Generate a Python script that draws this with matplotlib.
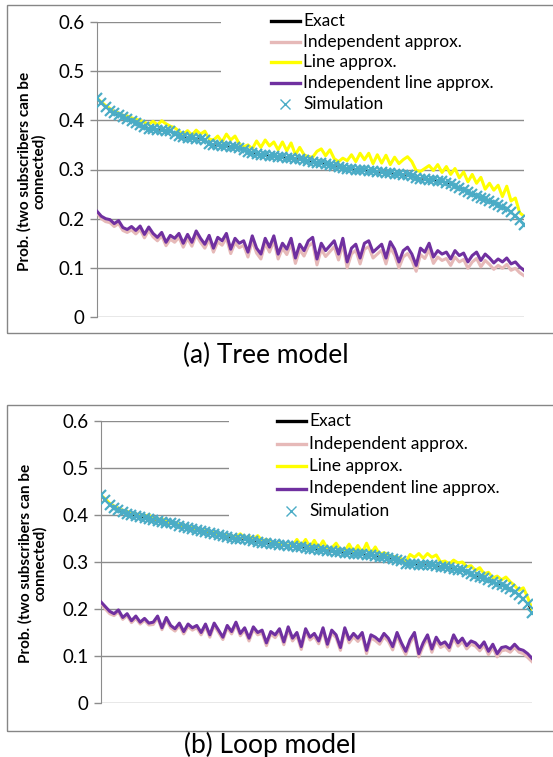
import matplotlib
matplotlib.use("Agg")
import matplotlib.pyplot as plt
from matplotlib.patches import Rectangle
import numpy as np

plt.rcParams['font.family'] = ['Lato', 'DejaVu Sans']

# ---------------- data: (a) Tree model ----------------
tree_exact = [
    0.445, 0.436, 0.428, 0.420, 0.414, 0.410, 0.407, 0.403, 0.399, 0.395,
    0.391, 0.387, 0.383, 0.382, 0.381, 0.380, 0.379, 0.378, 0.372, 0.368,
    0.366, 0.365, 0.364, 0.363, 0.362, 0.360, 0.352, 0.350, 0.349, 0.348,
    0.347, 0.346, 0.345, 0.343, 0.340, 0.336, 0.334, 0.332, 0.330, 0.329,
    0.328, 0.327, 0.326, 0.325, 0.324, 0.323, 0.322, 0.321, 0.319, 0.317,
    0.315, 0.314, 0.313, 0.312, 0.310, 0.308, 0.306, 0.304, 0.302, 0.301,
    0.300, 0.299, 0.298, 0.297, 0.296, 0.295, 0.294, 0.293, 0.292, 0.291,
    0.290, 0.289, 0.288, 0.287, 0.282, 0.281, 0.280, 0.279, 0.278, 0.277,
    0.276, 0.273, 0.270, 0.267, 0.263, 0.259, 0.255, 0.251, 0.247, 0.243,
    0.240, 0.236, 0.232, 0.228, 0.224, 0.220, 0.214, 0.206, 0.198, 0.188]
tree_sim = tree_exact
tree_line = [
    0.445, 0.437, 0.430, 0.424, 0.418, 0.415, 0.410, 0.409, 0.405, 0.402,
    0.400, 0.396, 0.392, 0.398, 0.391, 0.399, 0.393, 0.388, 0.385, 0.378,
    0.372, 0.379, 0.370, 0.380, 0.372, 0.378, 0.362, 0.360, 0.368, 0.356,
    0.372, 0.360, 0.368, 0.352, 0.346, 0.350, 0.342, 0.358, 0.345, 0.360,
    0.348, 0.356, 0.340, 0.356, 0.338, 0.354, 0.330, 0.345, 0.330, 0.326,
    0.325, 0.337, 0.342, 0.328, 0.340, 0.322, 0.316, 0.323, 0.318, 0.330,
    0.316, 0.333, 0.320, 0.333, 0.312, 0.330, 0.313, 0.329, 0.310, 0.325,
    0.312, 0.320, 0.326, 0.316, 0.298, 0.296, 0.302, 0.308, 0.298, 0.310,
    0.294, 0.306, 0.290, 0.302, 0.283, 0.295, 0.275, 0.290, 0.272, 0.284,
    0.260, 0.272, 0.258, 0.268, 0.245, 0.266, 0.236, 0.242, 0.212, 0.205]
tree_indline = [
    0.215, 0.205, 0.200, 0.198, 0.190, 0.196, 0.182, 0.178, 0.184, 0.176,
    0.185, 0.168, 0.183, 0.170, 0.162, 0.172, 0.152, 0.166, 0.160, 0.170,
    0.150, 0.168, 0.152, 0.175, 0.160, 0.148, 0.166, 0.140, 0.162, 0.155,
    0.170, 0.138, 0.160, 0.150, 0.155, 0.132, 0.165, 0.140, 0.128, 0.160,
    0.142, 0.165, 0.128, 0.150, 0.138, 0.160, 0.120, 0.148, 0.135, 0.155,
    0.162, 0.118, 0.150, 0.135, 0.145, 0.155, 0.128, 0.160, 0.112, 0.140,
    0.148, 0.120, 0.150, 0.155, 0.132, 0.140, 0.148, 0.120, 0.153, 0.138,
    0.112, 0.135, 0.142, 0.128, 0.105, 0.140, 0.132, 0.150, 0.122, 0.135,
    0.128, 0.132, 0.118, 0.135, 0.125, 0.130, 0.112, 0.125, 0.132, 0.115,
    0.128, 0.120, 0.110, 0.118, 0.112, 0.120, 0.108, 0.112, 0.102, 0.095]
tree_ind = [
    0.212, 0.200, 0.194, 0.192, 0.184, 0.190, 0.176, 0.172, 0.177, 0.169,
    0.178, 0.161, 0.176, 0.163, 0.155, 0.165, 0.145, 0.158, 0.152, 0.162,
    0.142, 0.160, 0.144, 0.167, 0.152, 0.140, 0.158, 0.132, 0.153, 0.146,
    0.161, 0.129, 0.151, 0.141, 0.146, 0.122, 0.155, 0.130, 0.118, 0.150,
    0.132, 0.155, 0.118, 0.140, 0.127, 0.149, 0.109, 0.137, 0.124, 0.144,
    0.151, 0.106, 0.138, 0.123, 0.133, 0.143, 0.116, 0.148, 0.100, 0.128,
    0.136, 0.108, 0.138, 0.143, 0.120, 0.128, 0.136, 0.108, 0.141, 0.126,
    0.100, 0.122, 0.129, 0.115, 0.093, 0.127, 0.119, 0.137, 0.109, 0.122,
    0.115, 0.119, 0.105, 0.122, 0.112, 0.117, 0.099, 0.112, 0.119, 0.102,
    0.115, 0.107, 0.097, 0.105, 0.099, 0.107, 0.095, 0.099, 0.090, 0.084]

# ---------------- data: (b) Loop model ----------------
loop_exact = [
    0.442, 0.432, 0.422, 0.414, 0.410, 0.406, 0.403, 0.400, 0.398, 0.396,
    0.394, 0.392, 0.390, 0.388, 0.386, 0.384, 0.382, 0.380, 0.377, 0.374,
    0.372, 0.370, 0.368, 0.366, 0.364, 0.362, 0.360, 0.358, 0.355, 0.353,
    0.351, 0.350, 0.349, 0.348, 0.346, 0.345, 0.343, 0.341, 0.340, 0.339,
    0.338, 0.337, 0.336, 0.335, 0.333, 0.332, 0.331, 0.330, 0.328, 0.327,
    0.326, 0.325, 0.324, 0.323, 0.322, 0.321, 0.320, 0.319, 0.318, 0.317,
    0.316, 0.315, 0.314, 0.313, 0.311, 0.310, 0.308, 0.306, 0.304, 0.302,
    0.296, 0.295, 0.295, 0.294, 0.294, 0.294, 0.293, 0.292, 0.290, 0.289,
    0.288, 0.286, 0.284, 0.282, 0.278, 0.274, 0.271, 0.268, 0.265, 0.261,
    0.257, 0.254, 0.251, 0.247, 0.243, 0.237, 0.230, 0.222, 0.210, 0.192]
loop_sim = loop_exact
loop_line = [
    0.442, 0.434, 0.425, 0.419, 0.414, 0.410, 0.408, 0.404, 0.402, 0.400,
    0.398, 0.400, 0.393, 0.390, 0.392, 0.386, 0.384, 0.383, 0.379, 0.377,
    0.375, 0.373, 0.370, 0.368, 0.366, 0.365, 0.362, 0.360, 0.358, 0.356,
    0.356, 0.352, 0.360, 0.350, 0.355, 0.348, 0.356, 0.345, 0.348, 0.342,
    0.340, 0.339, 0.338, 0.336, 0.335, 0.348, 0.335, 0.348, 0.332, 0.346,
    0.330, 0.345, 0.328, 0.330, 0.340, 0.326, 0.324, 0.338, 0.322, 0.335,
    0.320, 0.340, 0.318, 0.332, 0.316, 0.320, 0.315, 0.312, 0.310, 0.307,
    0.300, 0.316, 0.310, 0.318, 0.308, 0.318, 0.310, 0.315, 0.300, 0.302,
    0.296, 0.304, 0.298, 0.300, 0.290, 0.292, 0.282, 0.288, 0.275, 0.278,
    0.266, 0.270, 0.262, 0.268, 0.258, 0.250, 0.240, 0.245, 0.225, 0.200]
loop_indline = [
    0.215, 0.205, 0.195, 0.190, 0.198, 0.182, 0.190, 0.175, 0.185, 0.172,
    0.180, 0.170, 0.172, 0.185, 0.160, 0.182, 0.165, 0.158, 0.170, 0.152,
    0.168, 0.160, 0.165, 0.150, 0.168, 0.145, 0.170, 0.155, 0.140, 0.165,
    0.152, 0.172, 0.148, 0.160, 0.138, 0.162, 0.150, 0.155, 0.128, 0.152,
    0.145, 0.158, 0.130, 0.162, 0.138, 0.150, 0.120, 0.158, 0.140, 0.148,
    0.132, 0.160, 0.125, 0.155, 0.145, 0.118, 0.160, 0.135, 0.148, 0.138,
    0.150, 0.112, 0.145, 0.140, 0.132, 0.148, 0.138, 0.120, 0.150, 0.128,
    0.110, 0.135, 0.150, 0.105, 0.128, 0.145, 0.115, 0.140, 0.125, 0.130,
    0.118, 0.145, 0.128, 0.138, 0.122, 0.132, 0.128, 0.118, 0.130, 0.110,
    0.125, 0.105, 0.118, 0.120, 0.115, 0.125, 0.115, 0.112, 0.105, 0.095]
loop_ind = [
    0.212, 0.200, 0.190, 0.186, 0.194, 0.178, 0.186, 0.171, 0.180, 0.168,
    0.176, 0.166, 0.167, 0.181, 0.156, 0.177, 0.160, 0.153, 0.165, 0.147,
    0.163, 0.155, 0.160, 0.145, 0.163, 0.140, 0.165, 0.150, 0.135, 0.160,
    0.147, 0.167, 0.143, 0.155, 0.132, 0.157, 0.145, 0.149, 0.122, 0.147,
    0.139, 0.152, 0.124, 0.156, 0.132, 0.144, 0.114, 0.152, 0.134, 0.142,
    0.126, 0.154, 0.119, 0.149, 0.139, 0.112, 0.154, 0.128, 0.141, 0.131,
    0.143, 0.105, 0.138, 0.133, 0.125, 0.141, 0.131, 0.113, 0.143, 0.121,
    0.103, 0.128, 0.143, 0.098, 0.121, 0.138, 0.108, 0.133, 0.118, 0.123,
    0.111, 0.138, 0.121, 0.131, 0.115, 0.125, 0.121, 0.111, 0.123, 0.103,
    0.118, 0.098, 0.111, 0.113, 0.108, 0.118, 0.108, 0.105, 0.097, 0.088]

y_ticks = [0, 0.1, 0.2, 0.3, 0.4, 0.5, 0.6]
y_ticklabels = ["0", "0.1", "0.2", "0.3", "0.4", "0.5", "0.6"]
labels = ["Exact", "Independent approx.", "Line approx.",
          "Independent line approx.", "Simulation"]
titles = ["(a) Tree model", "(b) Loop model"]
ylabel = "Prob. (two subscribers can be\nconnected)"

C_EXACT = "black"
C_IND = "#E6B9B8"
C_LINE = "#FFFF00"
C_INDLINE = "#7030A0"
C_SIM = "#4BACC6"
GRID = "#8C8C8C"

W, H = 553, 757
fig = plt.figure(figsize=(W / 100, H / 100), dpi=100)


def fx(px):
    return px / W


def fy(py):
    return 1 - py / H


panels = [
    dict(ax=(97, 22, 524, 317), box=(7, 5, 333),
         leg=(271, 21, 20.7, 221, 7, 116),
         title_y=355, title_x=266, ylab=(32, 171),
         data=(tree_exact, tree_ind, tree_line, tree_indline, tree_sim)),
    dict(ax=(101, 421, 532, 703), box=(7, 405, 731),
         leg=(277, 421, 22.5, 229, 407, 522),
         title_y=745, title_x=270, ylab=(33, 563),
         data=(loop_exact, loop_ind, loop_line, loop_indline, loop_sim)),
]

for k, p in enumerate(panels):
    x0, y0, x1, y1 = p["ax"]
    bx, by0, by1 = p["box"]
    fig.patches.append(Rectangle((fx(bx), fy(by1)), fx(W + 5) - fx(bx), fy(by0) - fy(by1),
                                 transform=fig.transFigure, fill=False,
                                 edgecolor="#868686", linewidth=1.0))
    ax = fig.add_axes([fx(x0), fy(y1), fx(x1) - fx(x0), fy(y0) - fy(y1)])
    exact, ind, line, indline, sim = p["data"]
    x = np.arange(len(exact))
    ax.plot(x, exact, color=C_EXACT, lw=0.8, zorder=2.5)
    ax.plot(x, ind, color=C_IND, lw=2.2, zorder=3)
    ax.plot(x, line, color=C_LINE, lw=2.2, zorder=3)
    ax.plot(x, indline, color=C_INDLINE, lw=2.2, zorder=4)
    ax.plot(x, sim, linestyle="none", marker="x", ms=7, mew=1.6,
            color=C_SIM, zorder=5)
    ax.set_xlim(0, len(exact) - 1)
    ax.set_ylim(0, 0.6)
    ax.set_yticks(y_ticks)
    ax.set_yticklabels(y_ticklabels, fontsize=13.5)
    ax.set_xticks([])
    ax.yaxis.grid(True, color=GRID, lw=1.0, zorder=0)
    ax.set_axisbelow(True)
    for s in ("top", "right", "bottom"):
        ax.spines[s].set_visible(False)
    ax.spines["left"].set_color(GRID)
    ax.tick_params(axis="y", length=5, color=GRID, width=1.0, pad=4)

    # white legend area masking gridlines
    hx, hy, dy, lx, ly0, ly1 = p["leg"]
    fig.patches.append(Rectangle((fx(lx), fy(ly1)), fx(x1 + 2) - fx(lx), fy(ly0) - fy(ly1),
                                 transform=fig.transFigure, facecolor="white",
                                 edgecolor="none", zorder=1))
    # legend
    for i, lab in enumerate(labels):
        yy = fy(hy + i * dy)
        if i < 4:
            col = [C_EXACT, C_IND, C_LINE, C_INDLINE][i]
            fig.lines.append(plt.Line2D([fx(hx), fx(hx + 29)], [yy, yy],
                                        transform=fig.transFigure, color=col,
                                        lw=2.4, zorder=6))
        else:
            fig.lines.append(plt.Line2D([fx(hx + 14)], [yy], transform=fig.transFigure,
                                        marker="x", ms=7, mew=1.0, color=C_SIM,
                                        linestyle="none", zorder=6))
        fig.text(fx(hx + 32), yy, lab, fontsize=12.5, va="center", ha="left", zorder=7)

    fig.text(fx(p["title_x"]), fy(p["title_y"]), titles[k], fontsize=19,
             ha="center", va="center")
    lxp, lyp = p["ylab"]
    fig.text(fx(lxp), fy(lyp), ylabel, rotation=90, fontsize=11, fontweight="bold",
             ha="center", va="center", multialignment="center", linespacing=1.0)

fig.savefig("out.png", dpi=100)
